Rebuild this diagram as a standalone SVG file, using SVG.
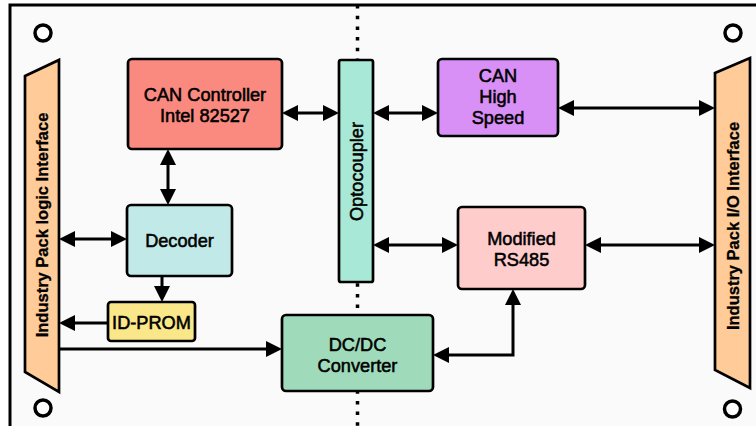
<svg xmlns="http://www.w3.org/2000/svg" width="756" height="426" viewBox="0 0 756 426">
<style>
  .box { stroke: #000; stroke-width: 2.7; }
  .lbl { font-family: "Liberation Sans", Arial, sans-serif; font-size: 18.2px; fill: #000; stroke: #000; stroke-width: 0.55; text-anchor: middle; }
  .vlbl { font-family: "Liberation Sans", Arial, sans-serif; font-size: 16.5px; font-weight: bold; fill: #000; stroke: #000; stroke-width: 0.3; text-anchor: middle; }
  .conn { fill: none; stroke: #000; stroke-width: 3; }
  .hole { fill: #FFFFFF; stroke: #000; stroke-width: 3.5; }
  .dots { fill: none; stroke: #000; stroke-width: 3.5; stroke-dasharray: 3.5 7.2; }
</style>
<defs>
  <marker id="ah" markerUnits="userSpaceOnUse" markerWidth="16" markerHeight="16" refX="11" refY="8" orient="auto-start-reverse">
    <path d="M0,0 L16,8 L0,16 z" fill="#000"/>
  </marker>
</defs>
<rect width="756" height="426" fill="#FFFFFF"/>
<g id="board">
  <rect x="10" y="5" width="800" height="500" fill="#FAFAFA" stroke="#000" stroke-width="3"/>
  <line class="dots" x1="357.5" y1="5" x2="357.5" y2="426"/>
  <circle class="hole" cx="43" cy="33" r="8"/>
  <circle class="hole" cx="43" cy="408" r="8"/>
  <circle class="hole" cx="733" cy="33" r="8"/>
  <circle class="hole" cx="732.5" cy="409" r="8"/>
</g>
<g id="connectors">
  <line class="conn" x1="287" y1="113" x2="334" y2="113" marker-start="url(#ah)" marker-end="url(#ah)"/>
  <line class="conn" x1="378" y1="113" x2="433" y2="113" marker-start="url(#ah)" marker-end="url(#ah)"/>
  <line class="conn" x1="563" y1="108" x2="710" y2="108" marker-start="url(#ah)" marker-end="url(#ah)"/>
  <line class="conn" x1="168" y1="154" x2="168" y2="200" marker-start="url(#ah)" marker-end="url(#ah)"/>
  <line class="conn" x1="64" y1="239" x2="122" y2="239" marker-start="url(#ah)" marker-end="url(#ah)"/>
  <line class="conn" x1="162" y1="276" x2="162" y2="297" marker-end="url(#ah)"/>
  <line class="conn" x1="108" y1="323" x2="64" y2="323" marker-end="url(#ah)"/>
  <line class="conn" x1="59" y1="349" x2="277" y2="349" marker-end="url(#ah)"/>
  <line class="conn" x1="378" y1="245" x2="453" y2="245" marker-start="url(#ah)" marker-end="url(#ah)"/>
  <line class="conn" x1="590" y1="245" x2="710" y2="245" marker-start="url(#ah)" marker-end="url(#ah)"/>
  <path class="conn" d="M438,355 H513 V294" marker-start="url(#ah)" marker-end="url(#ah)"/>
</g>
<g id="ip-logic">
  <polygon class="box" points="25,76 59,60 59,392 25,372" fill="#FFCC99"/>
  <text class="vlbl" transform="translate(48,225) rotate(-90)">Industry Pack logic Interface</text>
</g>
<g id="ip-io">
  <polygon class="box" points="715,73 750,58 750,388 715,370" fill="#FFCC99"/>
  <text class="vlbl" transform="translate(738.5,226) rotate(-90)">Industry Pack I/O Interface</text>
</g>
<g id="can-controller">
  <rect class="box" x="128" y="59" width="154" height="90" rx="4" fill="#FA8A7F"/>
  <text class="lbl" x="205" y="100.5">CAN Controller</text>
  <text class="lbl" x="205" y="121.5">Intel 82527</text>
</g>
<g id="optocoupler">
  <rect class="box" x="339" y="60" width="34" height="222" rx="2" fill="#A8E8D6"/>
  <text class="lbl" transform="translate(362.5,171.5) rotate(-90)">Optocoupler</text>
</g>
<g id="can-high-speed">
  <rect class="box" x="438" y="59" width="120" height="77" rx="4" fill="#D890F6"/>
  <text class="lbl" x="498" y="81.5">CAN</text>
  <text class="lbl" x="498" y="102.5">High</text>
  <text class="lbl" x="498" y="123.5">Speed</text>
</g>
<g id="decoder">
  <rect class="box" x="127" y="205" width="105" height="71" rx="4" fill="#C0E9E8"/>
  <text class="lbl" x="179.5" y="246.7">Decoder</text>
</g>
<g id="id-prom">
  <rect class="box" x="108" y="302" width="87" height="39" rx="3" fill="#F9E78A"/>
  <text class="lbl" x="151.5" y="329">ID-PROM</text>
</g>
<g id="rs485">
  <rect class="box" x="458" y="207" width="127" height="82" rx="4" fill="#FFCCCC"/>
  <text class="lbl" x="521.5" y="245">Modified</text>
  <text class="lbl" x="521.5" y="265.7">RS485</text>
</g>
<g id="dcdc">
  <rect class="box" x="282" y="315" width="151" height="76" rx="4" fill="#9FDBBB"/>
  <text class="lbl" x="357.5" y="350.7">DC/DC</text>
  <text class="lbl" x="357.5" y="371.7">Converter</text>
</g>
</svg>
